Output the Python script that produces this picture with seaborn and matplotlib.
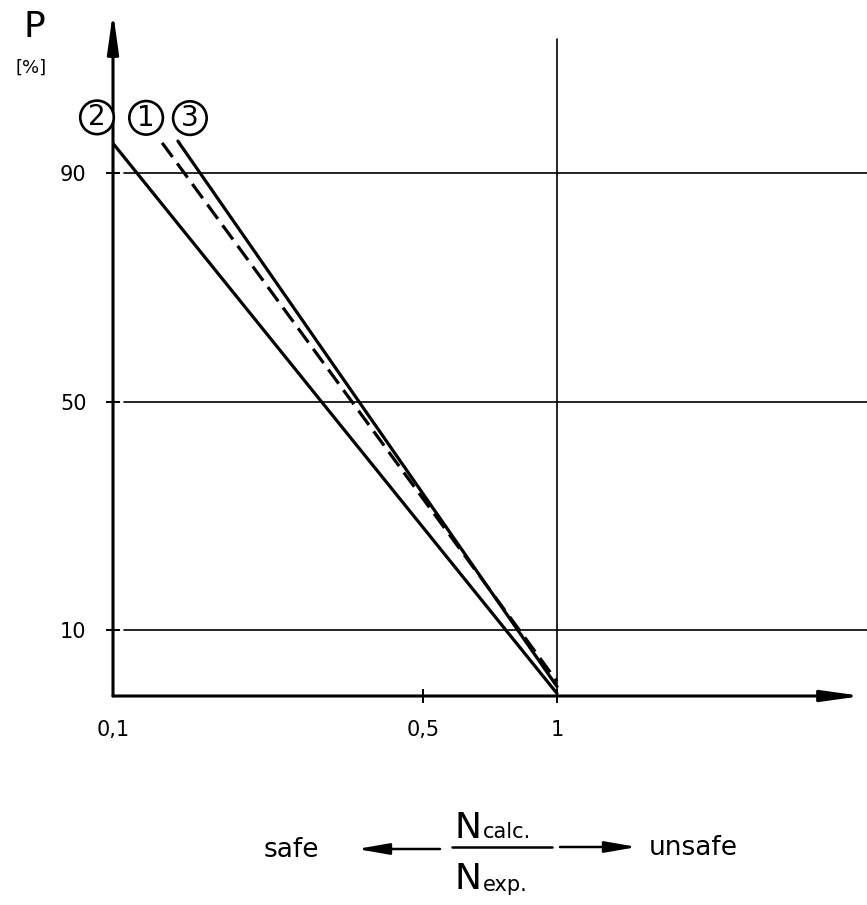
import pandas as pd
import matplotlib.pyplot as plt
import numpy as np
import seaborn as sns

# three probability lines (curve 1 is the dashed one)
curve = ['1', '1', '2', '2', '3', '3']
ratio = [0.129, 1.0, 0.1, 1.0, 0.140, 1.0]
prob = [95.3, 1.0, 95.2, -1.1, 95.6, 0.1]

y_ticks = [10, 50, 90]
x_ticks = [0.1, 0.5, 1]
x_labels = ['0,1', '0,5', '1']

df = pd.DataFrame({'curve': curve, 'ratio': ratio, 'P': prob})

sns.set_theme(style='white')
plt.rcParams['font.family'] = ['DejaVu Sans']
plt.rcParams['text.color'] = 'black'

W, H = 867, 905
fig = plt.figure(figsize=(W / 100, H / 100), dpi=100)
ax = fig.add_axes([113 / W, (H - 696) / H, (W - 113) / W, 684 / H])

def fx(px):
    return px / W

def fy(py):
    return 1 - py / H

sns.lineplot(data=df, x='ratio', y='P', hue='curve', style='curve',
             palette={'1': 'black', '2': 'black', '3': 'black'},
             dashes={'1': (5.5, 2.5), '2': '', '3': ''},
             estimator=None, sort=False, legend=False, lw=2.3, ax=ax, zorder=3)

ax.set_xscale('log')
ax.set_xlim(0.1, 10 ** ((W - 113) / 444 - 1))
ax.set_ylim(-1.55, 118.2)

for s in ax.spines.values():
    s.set_visible(False)

# grid lines
for v in y_ticks:
    ax.axhline(v, xmin=0.0146, xmax=1, color='black', lw=1.2, zorder=1)
ax.axvline(1, ymin=-0.006, ymax=0.96, color='black', lw=1.2, zorder=1, clip_on=False)

ax.set_yticks(y_ticks)
ax.set_yticklabels([str(v) for v in y_ticks])
ax.set_xticks(x_ticks)
ax.set_xticklabels(x_labels)
ax.xaxis.set_minor_locator(plt.NullLocator())
ax.tick_params(axis='y', direction='inout', length=10, width=1.4, pad=14,
               labelsize=15, colors='black', left=True)
ax.tick_params(axis='x', direction='inout', length=10, width=1.4, pad=12,
               labelsize=15, colors='black', bottom=True)
ax.xaxis.get_major_ticks()[0].tick1line.set_visible(False)
ax.set_xlabel('')
ax.set_ylabel('')

# axis arrows
arrow = dict(arrowstyle='-|>,head_length=2.0,head_width=0.28', lw=2.2,
             color='black', shrinkA=0, shrinkB=0)
ax.annotate('', xy=(0, 1), xytext=(0, 0), xycoords='axes fraction',
            arrowprops=arrow, annotation_clip=False, zorder=2)
ax.annotate('', xy=((862 - 113) / (W - 113), 0), xytext=(0, 0),
            xycoords='axes fraction', arrowprops=arrow, annotation_clip=False, zorder=2)

# circled curve numbers
circ = dict(boxstyle='circle,pad=0.1', fc='white', ec='black', lw=1.9)
offsets = {'2': (-16, 26), '1': (-16, 25), '3': (12, 23)}
for c, (dx, dy) in offsets.items():
    row = df[df['curve'] == c].iloc[0]
    ax.annotate(c, xy=(row['ratio'], row['P']), xytext=(dx, dy),
                textcoords='offset pixels', ha='center', va='center',
                fontsize=20, bbox=circ, zorder=5, annotation_clip=False)

fig.text(fx(34), fy(27), 'P', fontsize=26, ha='center', va='center')
fig.text(fx(31), fy(68), '[%]', fontsize=13, ha='center', va='center')

# bottom ratio caption
fig.text(fx(291), fy(850), 'safe', fontsize=19, ha='center', va='center')
fig.text(fx(693), fy(848), 'unsafe', fontsize=19, ha='center', va='center')
fig.text(fx(468), fy(838), 'N', fontsize=26, ha='center', va='baseline')
fig.text(fx(483), fy(838), 'calc.', fontsize=15, ha='left', va='baseline')
fig.text(fx(468), fy(889), 'N', fontsize=26, ha='center', va='baseline')
fig.text(fx(483), fy(891), 'exp.', fontsize=15, ha='left', va='baseline')
fig.add_artist(plt.Line2D([fx(452), fx(552)], [fy(847), fy(847)], color='black', lw=1.8))

farrow = dict(arrowstyle='-|>,head_length=1.6,head_width=0.28', lw=1.8,
              color='black', shrinkA=0, shrinkB=0)
fig.add_artist(plt.Annotation('', xy=(fx(357), fy(849)), xytext=(fx(440), fy(849)),
                              xycoords='figure fraction', arrowprops=farrow))
fig.add_artist(plt.Annotation('', xy=(fx(637), fy(847)), xytext=(fx(560), fy(847)),
                              xycoords='figure fraction', arrowprops=farrow))

fig.savefig('out.png', dpi=100, facecolor='white')
